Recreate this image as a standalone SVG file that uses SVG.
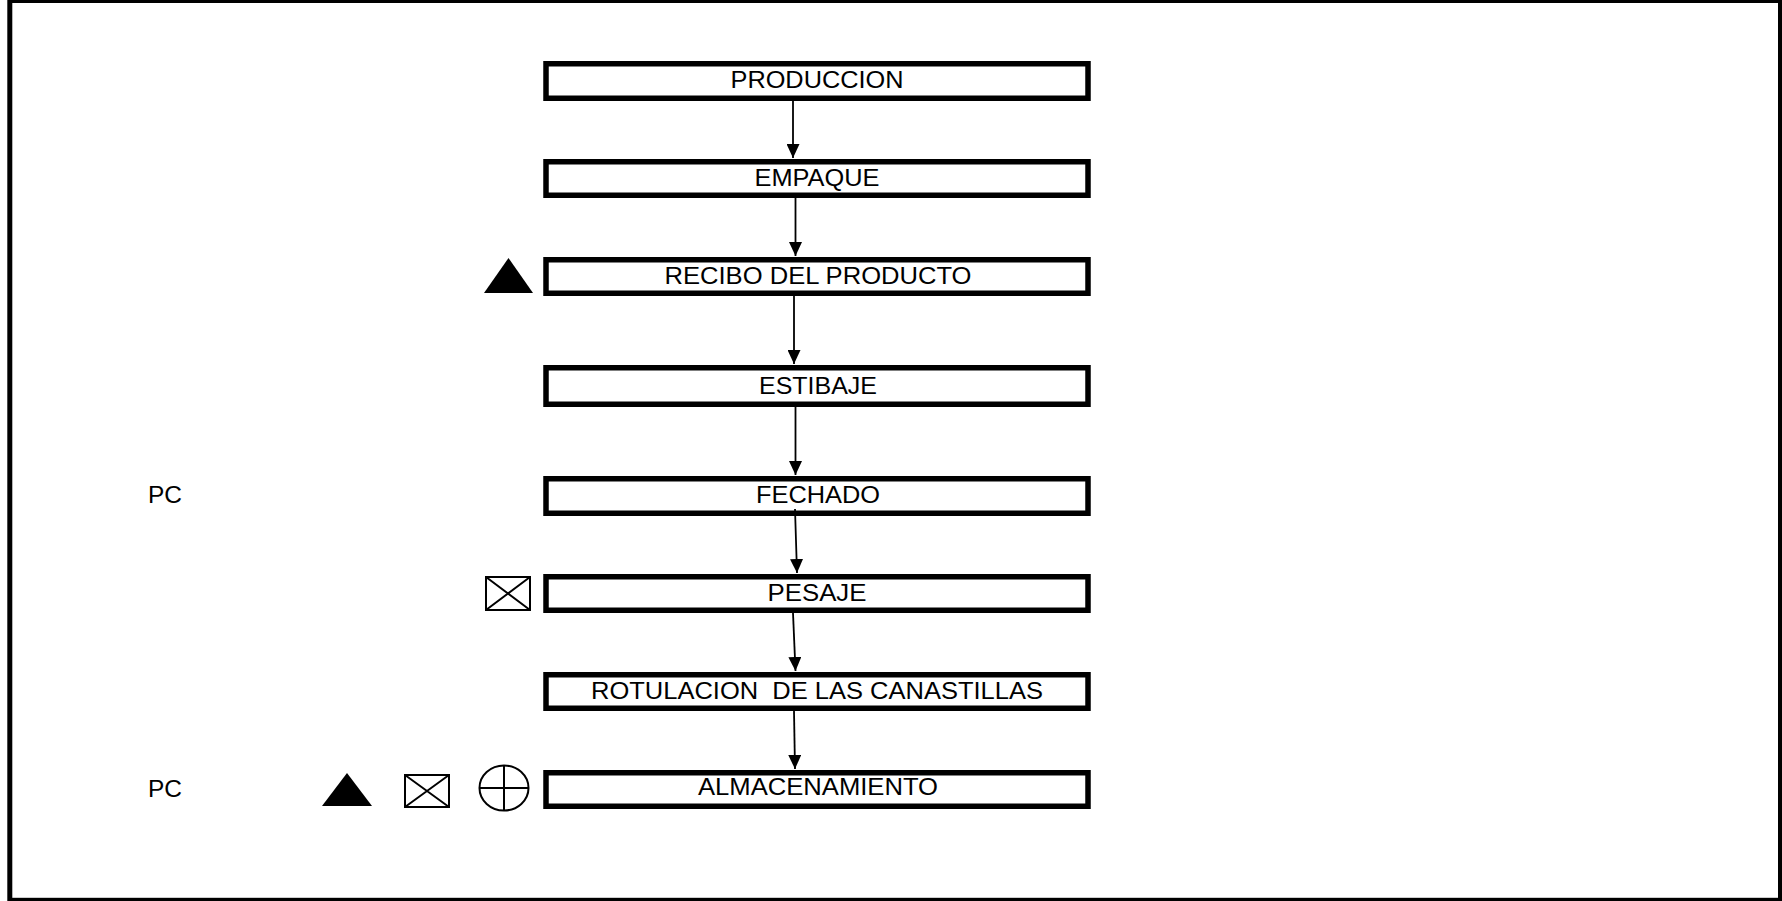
<svg xmlns="http://www.w3.org/2000/svg" width="1782" height="901" viewBox="0 0 1782 901">
  <style>
    .frame { fill: #fff; stroke: #000; stroke-width: 5; }
    .box { fill: #fff; stroke: #000; stroke-width: 5.5; }
    .lbl { font-family: "Liberation Sans", Arial, sans-serif; font-size: 24px; fill: #000; text-anchor: middle; white-space: pre; }
    .pc { font-family: "Liberation Sans", Arial, sans-serif; font-size: 24px; fill: #000; }
    .flow { fill: none; stroke: #000; stroke-width: 1.8; marker-end: url(#head); }
    .sym { fill: none; stroke: #000; stroke-width: 2; }
    .solid { fill: #000; stroke: none; }
  </style>
  <defs>
    <marker id="head" markerUnits="userSpaceOnUse" markerWidth="14" markerHeight="13" refX="14" refY="6.5" orient="auto">
      <path d="M0,0 L14,6.5 L0,13 z" fill="#000"/>
    </marker>
  </defs>

  <!-- page frame -->
  <rect class="frame" x="9.8" y="0.5" width="1770.7" height="899.8"/>

  <!-- process steps -->
  <g id="produccion">
    <rect class="box" x="546" y="63.75" width="542" height="34.5"/>
    <text class="lbl" x="817" y="88" textLength="173" lengthAdjust="spacingAndGlyphs">PRODUCCION</text>
  </g>
  <g id="empaque">
    <rect class="box" x="546" y="161.75" width="542" height="33.5"/>
    <text class="lbl" x="817" y="185.5" textLength="125" lengthAdjust="spacingAndGlyphs">EMPAQUE</text>
  </g>
  <g id="recibo">
    <rect class="box" x="546" y="259.75" width="542" height="33.5"/>
    <text class="lbl" x="818" y="283.5" textLength="307" lengthAdjust="spacingAndGlyphs">RECIBO DEL PRODUCTO</text>
  </g>
  <g id="estibaje">
    <rect class="box" x="546" y="367.75" width="542" height="36.5"/>
    <text class="lbl" x="818" y="393.5" textLength="118" lengthAdjust="spacingAndGlyphs">ESTIBAJE</text>
  </g>
  <g id="fechado">
    <rect class="box" x="546" y="478.75" width="542" height="34.5"/>
    <text class="lbl" x="818" y="502.5" textLength="124" lengthAdjust="spacingAndGlyphs">FECHADO</text>
  </g>
  <g id="pesaje">
    <rect class="box" x="546" y="576.75" width="542" height="33.5"/>
    <text class="lbl" x="817" y="600.5" textLength="99" lengthAdjust="spacingAndGlyphs">PESAJE</text>
  </g>
  <g id="rotulacion">
    <rect class="box" x="546" y="674.75" width="542" height="33.5"/>
    <text class="lbl" x="817" y="698.5" textLength="452" lengthAdjust="spacingAndGlyphs" xml:space="preserve">ROTULACION  DE LAS CANASTILLAS</text>
  </g>
  <g id="almacenamiento">
    <rect class="box" x="546" y="772.75" width="542" height="33.5"/>
    <text class="lbl" x="818" y="794.5" textLength="240" lengthAdjust="spacingAndGlyphs">ALMACENAMIENTO</text>
  </g>

  <!-- side markers -->
  <g id="pc-fechado">
    <text class="pc" x="148" y="503" textLength="34" lengthAdjust="spacingAndGlyphs">PC</text>
  </g>
  <g id="pc-almacenamiento">
    <text class="pc" x="148" y="797" textLength="34" lengthAdjust="spacingAndGlyphs">PC</text>
  </g>
  <g id="sym-recibo">
    <polygon class="solid" points="484,293 533,293 508.5,258"/>
  </g>
  <g id="sym-pesaje">
    <rect class="sym" x="486" y="577" width="44" height="33"/>
    <path class="sym" d="M486,577 L530,610 M530,577 L486,610"/>
  </g>
  <g id="sym-almacenamiento">
    <polygon class="solid" points="322,806 372,806 347,773"/>
    <rect class="sym" x="405" y="775" width="44" height="32"/>
    <path class="sym" d="M405,775 L449,807 M449,775 L405,807"/>
    <ellipse class="sym" cx="504" cy="788" rx="24.5" ry="22.5"/>
    <path class="sym" d="M504,765.5 L504,810.5 M479.5,788 L528.5,788"/>
  </g>

  <!-- connectors -->
  <g id="connectors">
    <line class="flow" x1="793" y1="101" x2="793" y2="158"/>
    <line class="flow" x1="795.5" y1="198" x2="795.5" y2="256"/>
    <line class="flow" x1="794" y1="296" x2="794" y2="364"/>
    <line class="flow" x1="795.5" y1="407" x2="795.5" y2="475"/>
    <line class="flow" x1="795" y1="509" x2="797" y2="573"/>
    <line class="flow" x1="793" y1="613" x2="795.5" y2="671"/>
    <line class="flow" x1="794" y1="711" x2="795" y2="769"/>
  </g>
</svg>
